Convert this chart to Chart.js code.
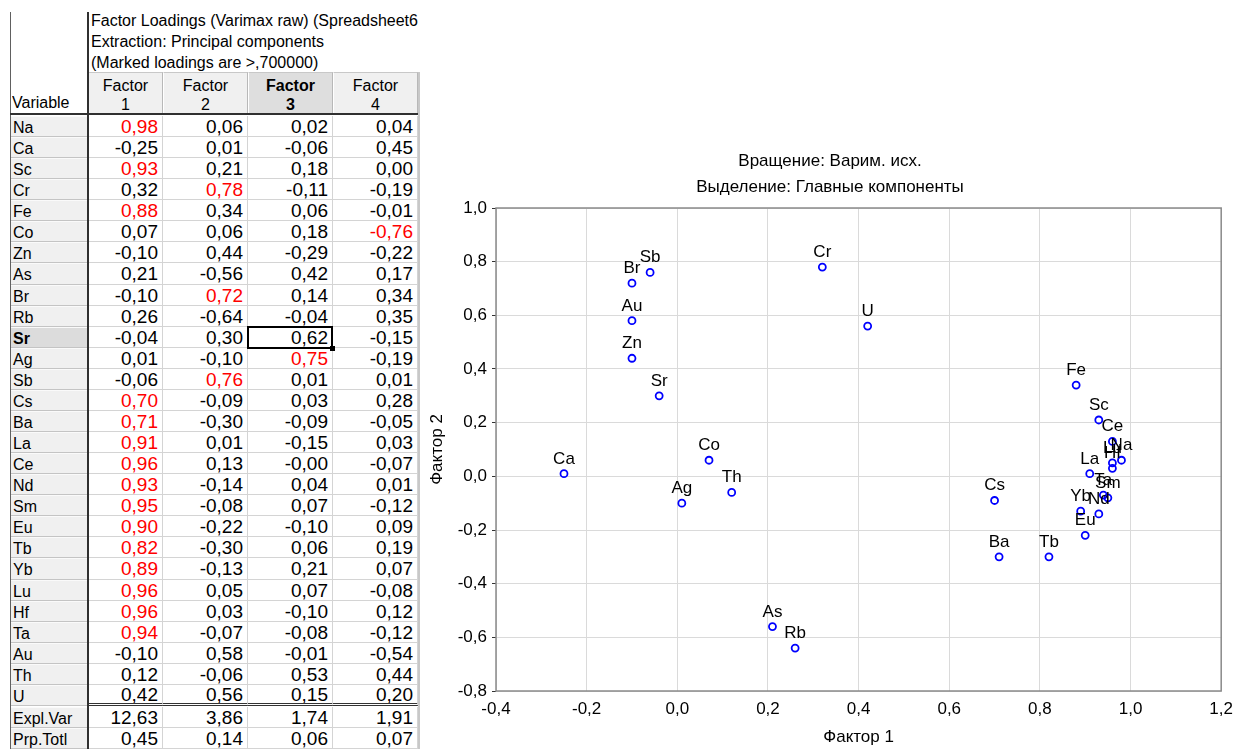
<!DOCTYPE html>
<html>
<head>
<meta charset="utf-8">
<script src="https://cdn.jsdelivr.net/npm/chart.js@4.4.1/dist/chart.umd.min.js"></script>
<style>
  html, body { margin:0; padding:0; background:#fff; }
  body { width:1235px; height:749px; position:relative; overflow:hidden; font-family:"Liberation Sans", Arial, sans-serif; color:#000; }
  #tbl { position:absolute; left:0; top:0; width:425px; height:749px; overflow:hidden; }
  #tbl div { position:absolute; box-sizing:border-box; white-space:nowrap; overflow:hidden; }
  #wrap { position:absolute; left:425px; top:130px; width:810px; height:619px; }
</style>
</head>
<body>
<div id="tbl"></div>
<div id="wrap"><canvas id="c" width="810" height="619"></canvas></div>
<script>
// ---------------- data ----------------
const variables = ['Na','Ca','Sc','Cr','Fe','Co','Zn','As','Br','Rb','Sr','Ag','Sb','Cs','Ba','La','Ce','Nd','Sm','Eu','Tb','Yb','Lu','Hf','Ta','Au','Th','U'];
const factor1 = [0.98,-0.25,0.93,0.32,0.88,0.07,-0.10,0.21,-0.10,0.26,-0.04,0.01,-0.06,0.70,0.71,0.91,0.96,0.93,0.95,0.90,0.82,0.89,0.96,0.96,0.94,-0.10,0.12,0.42];
const factor2 = [0.06,0.01,0.21,0.78,0.34,0.06,0.44,-0.56,0.72,-0.64,0.30,-0.10,0.76,-0.09,-0.30,0.01,0.13,-0.14,-0.08,-0.22,-0.30,-0.13,0.05,0.03,-0.07,0.58,-0.06,0.56];
const factor3 = [0.02,-0.06,0.18,-0.11,0.06,0.18,-0.29,0.42,0.14,-0.04,0.62,0.75,0.01,0.03,-0.09,-0.15,-0,0.04,0.07,-0.10,0.06,0.21,0.07,-0.10,-0.08,-0.01,0.53,0.15];
const factor4 = [0.04,0.45,0.00,-0.19,-0.01,-0.76,-0.22,0.17,0.34,0.35,-0.15,-0.19,0.01,0.28,-0.05,0.03,-0.07,0.01,-0.12,0.09,0.19,0.07,-0.08,0.12,-0.12,-0.54,0.44,0.20];
const explVar = [12.63,3.86,1.74,1.91];
const prpTotl = [0.45,0.14,0.06,0.07];
const factorHeaders = ['Factor<br>1','Factor<br>2','Factor<br>3','Factor<br>4'];
const headerLines = ['Factor Loadings (Varimax raw) (Spreadsheet6 in Workbook1)','Extraction: Principal components','(Marked loadings are >,700000)'];
const xTickLabels = ['-0,4','-0,2','0,0','0,2','0,4','0,6','0,8','1,0','1,2'];
const yTickLabels = ['-0,8','-0,6','-0,4','-0,2','0,0','0,2','0,4','0,6','0,8','1,0'];
const chartTitle = ['Вращение: Варим. исх.','Выделение: Главные компоненты'];
const xTitle = 'Фактор 1';
const yTitle = 'Фактор 2';

// ---------------- table ----------------
const T = document.getElementById('tbl');
function box(x, y, w, h, style, html) {
  const d = document.createElement('div');
  d.style.cssText = `left:${x}px;top:${y}px;width:${w}px;height:${h}px;` + style;
  if (html != null) d.innerHTML = html;
  T.appendChild(d);
  return d;
}
function fmt(v) {
  const neg = v < 0 || Object.is(v, -0);
  return (neg ? '-' : '') + Math.abs(v).toFixed(2).replace('.', ',');
}
const colX = [88, 163, 248, 333, 418];
const cols = [factor1, factor2, factor3, factor4];
const rowH = 21.07, dataTop = 116;

// header text
headerLines.forEach((t, i) => box(91, 10 + i * 21, 327, 21, 'font-size:16px;line-height:21px;', t));
// column headers
for (let j = 0; j < 4; j++) {
  const bold = j === 2;
  box(colX[j], 72, colX[j+1] - colX[j], 43,
    `background:${bold ? '#dedede' : '#f0f0f0'};border-top:1px solid #c8c8c8;border-right:1px solid #b8b8b8;border-left:1px solid #fff;text-align:center;font-size:16px;line-height:19px;padding-top:3px;${bold ? 'font-weight:bold;' : ''}`,
    factorHeaders[j]);
}
box(12, 92, 76, 21, 'font-size:16px;line-height:21px;', 'Variable');

// data rows
const allRows = variables.map((n, i) => ({name: n, vals: cols.map(c => c[i])}));
allRows.push({name: 'Expl.Var', vals: explVar, footer: true});
allRows.push({name: 'Prp.Totl', vals: prpTotl, footer: true});
allRows.forEach((r, i) => {
  const y0 = Math.round(dataTop + i * rowH + (r.footer ? 1 : 0));
  const y1 = Math.round(dataTop + (i + 1) * rowH + (r.footer ? 1 : 0));
  const h = y1 - y0;
  const isSr = r.name === 'Sr';
  box(10, y0, 78, h, `background:${isSr ? '#dcdcdc' : '#f0f0f0'};border-bottom:1px solid #c4c4c4;border-top:1px solid #fafafa;font-size:16px;line-height:${h}px;padding-left:3px;${isSr ? 'font-weight:bold;' : ''}`, r.name);
  const isU = r.name === 'U';
  r.vals.forEach((v, j) => {
    const red = !r.footer && Math.abs(v) >= 0.695;
    box(colX[j], y0, colX[j+1] - colX[j], h,
      `background:#fff;border-right:1px solid #d4d4d4;${isU ? 'border-bottom:3px double #333;' : 'border-bottom:1px solid #d4d4d4;'}text-align:right;padding-right:4px;font-size:19px;line-height:${isU ? h - 2 : h}px;color:${red ? '#ff0000' : '#000'};`,
      fmt(v));
  });
});
// separators
box(10, 12, 1, 737, 'background:#606060;');
box(87, 12, 2, 737, 'background:#303030;');
box(88, 113, 332, 2, 'background:#303030;');
box(10, 113, 78, 2, 'background:#303030;');
box(418, 72, 2, 677, 'background:#c8c8c8;');
// selected cell (Sr / Factor 3)
(function () {
  const i = variables.indexOf('Sr');
  const y0 = Math.round(dataTop + i * rowH), y1 = Math.round(dataTop + (i + 1) * rowH);
  box(colX[2] - 1, y0 - 1, colX[3] - colX[2] + 1, y1 - y0 + 2, 'border:2px solid #000;background:transparent;');
  box(colX[3] - 3, y1 - 2, 5, 5, 'background:#000;');
})();

// ---------------- chart ----------------
const xMin = -0.4, xMax = 1.2, yMin = -0.8, yMax = 1.0, step = 0.2;
const FONT = '"Liberation Sans", Arial, sans-serif';

const labelPlugin = {
  id: 'pointLabels',
  beforeDatasetsDraw(chart) {
    const {ctx, chartArea: a} = chart;
    ctx.save();
    ctx.strokeStyle = '#8a8a8a';
    ctx.lineWidth = 1.5;
    ctx.strokeRect(a.left, a.top, a.right - a.left, a.bottom - a.top);
    ctx.restore();
  },
  afterDatasetsDraw(chart) {
    const {ctx} = chart;
    const meta = chart.getDatasetMeta(0);
    ctx.save();
    ctx.font = '17px ' + FONT;
    ctx.fillStyle = '#000';
    ctx.textAlign = 'center';
    ctx.textBaseline = 'alphabetic';
    meta.data.forEach((pt, i) => {
      ctx.fillText(variables[i], pt.x, pt.y - 10);
    });
    ctx.restore();
  }
};

new Chart(document.getElementById('c'), {
  type: 'scatter',
  data: {
    datasets: [{
      data: variables.map((n, i) => ({x: factor1[i], y: factor2[i]})),
      pointStyle: 'circle',
      pointRadius: 3.5,
      pointBorderWidth: 1.8,
      borderColor: '#0000ff',
      backgroundColor: 'rgba(255,255,255,0)',
      pointHoverRadius: 3.5
    }]
  },
  options: {
    responsive: false,
    animation: false,
    devicePixelRatio: 1,
    layout: { padding: { left: 0, right: 0, top: 0, bottom: 0 } },
    plugins: {
      legend: { display: false },
      tooltip: { enabled: false },
      title: {
        display: true,
        text: chartTitle,
        color: '#000',
        font: { family: FONT, size: 17, weight: 'normal', lineHeight: 26 / 17 },
        padding: { top: 18, bottom: 8 }
      }
    },
    scales: {
      x: {
        type: 'linear',
        min: xMin, max: xMax,
        afterFit(s) { s.height = 58; },
        ticks: {
          stepSize: step,
          color: '#000',
          font: { family: FONT, size: 17 },
          padding: 2,
          maxRotation: 0,
          callback: (v) => xTickLabels[Math.round((v - xMin) / step)]
        },
        grid: { color: '#dadada', lineWidth: 1, drawTicks: true, tickLength: 6, tickColor: 'rgba(0,0,0,0)' },
        border: { display: false },
        title: { display: true, text: xTitle, color: '#000', font: { family: FONT, size: 17 }, padding: { top: 0, bottom: 1 } }
      },
      y: {
        type: 'linear',
        min: yMin, max: yMax,
        afterFit(s) { s.width = 71; },
        ticks: {
          stepSize: step,
          color: '#000',
          font: { family: FONT, size: 17 },
          padding: 5,
          callback: (v) => yTickLabels[Math.round((v - yMin) / step)]
        },
        grid: { color: '#dadada', lineWidth: 1, drawTicks: true, tickLength: 4, tickColor: '#333' },
        border: { display: false },
        title: { display: true, text: yTitle, color: '#000', font: { family: FONT, size: 17 }, padding: { top: 2, bottom: 0 } }
      }
    }
  },
  plugins: [labelPlugin]
});
</script>
</body>
</html>
